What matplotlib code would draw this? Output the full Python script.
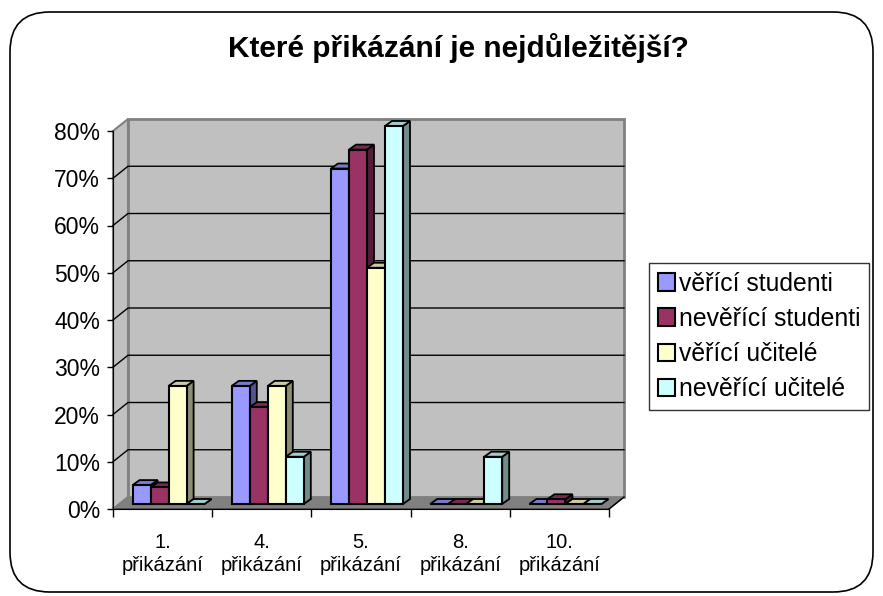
import matplotlib
matplotlib.use("Agg")
import matplotlib.pyplot as plt
from matplotlib.patches import Polygon, FancyBboxPatch, Patch
import numpy as np

plt.rcParams['font.family'] = ['Liberation Sans', 'DejaVu Sans']

title = "Které přikázání je nejdůležitější?"
categories = ["1.\npřikázání", "4.\npřikázání", "5.\npřikázání", "8.\npřikázání", "10.\npřikázání"]
series_names = ["věřící studenti", "nevěřící studenti", "věřící učitelé", "nevěřící učitelé"]
veric_studenti = [0.04, 0.25, 0.71, 0.0, 0.0]
neveric_studenti = [0.035, 0.205, 0.75, 0.0, 0.01]
veric_ucitele = [0.25, 0.25, 0.50, 0.0, 0.0]
neveric_ucitele = [0.0, 0.10, 0.80, 0.10, 0.0]
series_values = [veric_studenti, neveric_studenti, veric_ucitele, neveric_ucitele]
colors = ["#9999FF", "#993366", "#FFFFCC", "#CCFFFF"]
yticks = [0, 0.1, 0.2, 0.3, 0.4, 0.5, 0.6, 0.7, 0.8]
ytick_labels = ["0%", "10%", "20%", "30%", "40%", "50%", "60%", "70%", "80%"]

W, H = 883, 596
fig = plt.figure(figsize=(W / 100, H / 100), dpi=100)

# outer rounded frame
frame = FancyBboxPatch((10 / W, 4 / H), 863 / W, 580 / H,
                       boxstyle="round,pad=0,rounding_size=0.045",
                       transform=fig.transFigure, facecolor="none",
                       edgecolor="black", lw=1.2, zorder=-5,
                       mutation_aspect=W / H)
fig.patches.append(frame)

# front plane of the plot
x0, x1, ytop, ybot = 113, 609, 131, 509
ax = fig.add_axes([x0 / W, (H - ybot) / H, (x1 - x0) / W, (ybot - ytop) / H])
ax.set_zorder(2)
ax.set_facecolor("none")
n = len(categories)
ax.set_xlim(0, n)
ax.set_ylim(0, 0.8)

# pixel -> data scale
sx = n / (x1 - x0)
sy = 0.8 / (ybot - ytop)
DX, DY = 15 * sx, 12 * sy  # wall depth offset

wall = "#C0C0C0"
floor = "#808080"
# floor
ax.add_patch(Polygon([(0, 0), (n, 0), (n + DX, DY), (DX, DY)], closed=True,
                     facecolor=floor, edgecolor="#404040", lw=1, clip_on=False, zorder=1))
# side wall
ax.add_patch(Polygon([(0, 0), (0, 0.8), (DX, 0.8 + DY), (DX, DY)], closed=True,
                     facecolor=wall, edgecolor="#808080", lw=1.5, clip_on=False, zorder=1))
# back wall
ax.add_patch(Polygon([(DX, DY), (n + DX, DY), (n + DX, 0.8 + DY), (DX, 0.8 + DY)], closed=True,
                     facecolor=wall, edgecolor="#808080", lw=2, clip_on=False, zorder=1))
# gridlines
for v in yticks[1:-1]:
    ax.plot([0, DX, n + DX], [v, v + DY, v + DY], color="black", lw=1, clip_on=False, zorder=2)

# bars
bw = 18 * sx
bdx, bdy = 6 * sx, 5 * sy      # bar front offset from front plane
ddx, ddy = 7 * sx, 5 * sy      # bar depth
z = 3
for ci in range(n):
    center = ci + 0.5 + bdx
    for si, vals in enumerate(series_values):
        v = vals[ci]
        c = np.array(matplotlib.colors.to_rgb(colors[si]))
        left = center - 2 * bw + si * bw
        right = left + bw
        b = bdy
        t = bdy + v
        side = Polygon([(right, b), (right + ddx, b + ddy), (right + ddx, t + ddy), (right, t)],
                       closed=True, facecolor=c * 0.55, edgecolor="black", lw=1.3,
                       clip_on=False, zorder=z)
        top = Polygon([(left, t), (right, t), (right + ddx, t + ddy), (left + ddx, t + ddy)],
                      closed=True, facecolor=c * 0.8, edgecolor="black", lw=1.3,
                      clip_on=False, zorder=z)
        front = Polygon([(left, b), (right, b), (right, t), (left, t)], closed=True,
                        facecolor=c, edgecolor="black", lw=1.5, clip_on=False, zorder=z + 0.5)
        ax.add_patch(side)
        ax.add_patch(top)
        ax.add_patch(front)
        z += 1

# spines & ticks
for s in ["top", "right"]:
    ax.spines[s].set_visible(False)
ax.spines["left"].set_color("black")
ax.spines["bottom"].set_color("black")
ax.spines["left"].set_zorder(100)
ax.spines["bottom"].set_zorder(100)
ax.plot([n, n + DX], [0, DY], color="black", lw=1, clip_on=False, zorder=100)

ax.set_yticks(yticks)
ax.set_yticklabels(ytick_labels, fontsize=16.5)
ax.tick_params(axis="y", direction="out", length=4.3, width=1, pad=5)

ax.set_xticks(np.arange(n) + 0.5)
ax.set_xticklabels(categories, fontsize=14.5, linespacing=1.3)
ax.tick_params(axis="x", which="major", length=0, pad=17)
ax.set_xticks(np.arange(n + 1), minor=True)
ax.tick_params(axis="x", which="minor", direction="out", length=6, width=1)

fig.text(458 / W, 1 - 48 / H, title, ha="center", va="center",
         fontsize=21.4, fontweight="bold")

handles = [Patch(facecolor=colors[i], edgecolor="black", lw=1.5) for i in range(4)]
leg = fig.legend(handles, series_names, loc="upper left",
                 bbox_to_anchor=(649 / W, 1 - 263 / H), fontsize=17.8,
                 frameon=True, fancybox=False, edgecolor="black",
                 handlelength=0.7, handleheight=0.7, handletextpad=0.15,
                 labelspacing=0.45, borderpad=0.35, borderaxespad=0)
leg.get_frame().set_linewidth(1)

fig.savefig("out.png", dpi=100)
